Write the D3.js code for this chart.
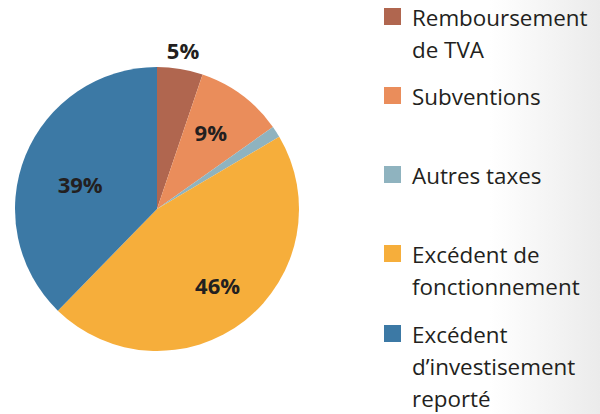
<!DOCTYPE html>
<html>
<head>
<meta charset="utf-8">
<script src="https://d3js.org/d3.v7.min.js"></script>
<style>
  body { margin: 0; background: #fff; }
  svg { display: block; }
</style>
</head>
<body>
<svg width="600" height="414"></svg>
<script>
// slice shares, printed labels as shown
var categories = ["Remboursement de TVA", "Subventions", "Autres taxes", "Excédent de fonctionnement", "Excédent d’investisement reporté"];
var values = [5.2, 10.0, 1.3, 45.8, 37.7];
var labels = ["5%", "9%", "", "46%", "39%"];
var colors = ["#b0664f", "#ea8d5b", "#8fb3bf", "#f6ae3b", "#3c79a5"];
var legendLines = [["Remboursement", "de TVA"], ["Subventions"], ["Autres taxes"], ["Excédent de", "fonctionnement"], ["Excédent", "d’investisement", "reporté"]];
var legendTops = [8, 87, 166, 245, 325];

var svg = d3.select("svg");

// faint grey fade at the right edge
var grad = svg.append("defs").append("linearGradient").attr("id", "fade");
grad.append("stop").attr("offset", "0%").attr("stop-color", "#ffffff");
grad.append("stop").attr("offset", "100%").attr("stop-color", "#ebebeb");
svg.append("rect").attr("x", 490).attr("y", 0).attr("width", 110).attr("height", 414).attr("fill", "url(#fade)");

var cx = 157, cy = 209, r = 142;

var pie = d3.pie().sort(null).value(function(d) { return d; });
var arcs = pie(values);
var arc = d3.arc().innerRadius(0).outerRadius(r);

var g = svg.append("g").attr("transform", "translate(" + cx + "," + cy + ")");
g.selectAll("path")
  .data(arcs)
  .enter().append("path")
    .attr("d", arc)
    .attr("fill", function(d, i) { return colors[i]; });

// label radius per slice (the small one sits outside the pie), plus a small vertical nudge
var labelR = [160, 90, 0, 98, 83];
var labelNudge = [0, -4, 0, 0, 8];
var labelArc = function(d, i) {
  var a = (d.startAngle + d.endAngle) / 2;
  return [Math.sin(a) * labelR[i], -Math.cos(a) * labelR[i] + labelNudge[i]];
};
g.selectAll("text.pct")
  .data(arcs)
  .enter().append("text")
    .attr("class", "pct")
    .attr("transform", function(d, i) { var p = labelArc(d, i); return "translate(" + p[0] + "," + p[1] + ")"; })
    .attr("text-anchor", "middle")
    .attr("dy", "0.35em")
    .style("font-family", "'Open Sans', sans-serif")
    .style("font-weight", "bold")
    .style("font-size", "22px")
    .style("fill", "#231f20")
    .text(function(d, i) { return labels[i]; });

// legend
var leg = svg.append("g");
var item = leg.selectAll("g")
  .data(categories)
  .enter().append("g")
    .attr("transform", function(d, i) { return "translate(384," + legendTops[i] + ")"; });
item.append("rect")
  .attr("width", 17).attr("height", 17)
  .attr("fill", function(d, i) { return colors[i]; });
item.each(function(d, i) {
  var t = d3.select(this).append("text")
    .style("font-family", "'Open Sans', sans-serif")
    .style("font-size", "22.4px")
    .style("fill", "#231f20");
  legendLines[i].forEach(function(line, j) {
    t.append("tspan").attr("x", 28).attr("y", 18 + j * 32).text(line);
  });
});
</script>
</body>
</html>
